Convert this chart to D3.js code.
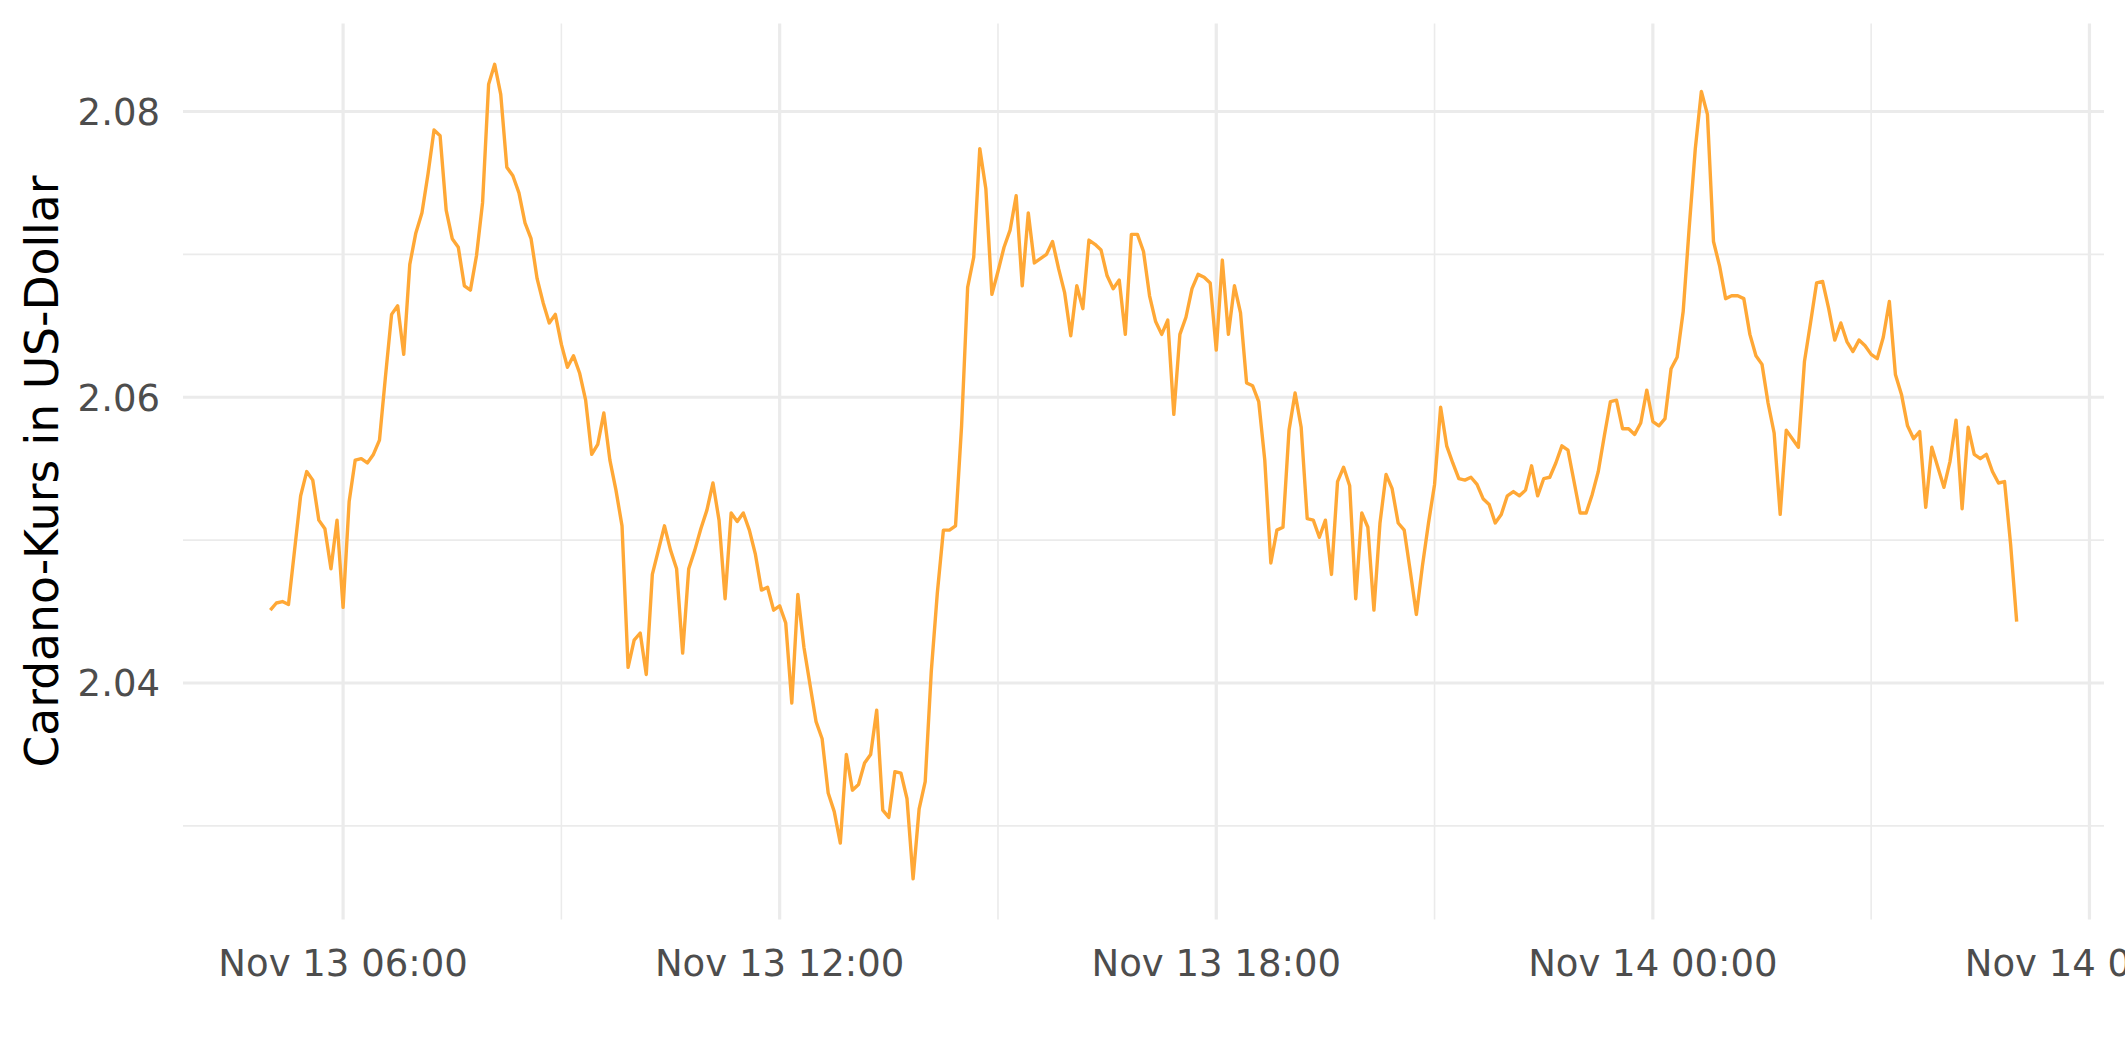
<!DOCTYPE html>
<html><head><meta charset="utf-8">
<script src="https://cdn.jsdelivr.net/npm/d3@7"></script>
<style>body{margin:0;background:#fff;} svg{display:block;}</style>
</head><body><svg id="c" width="2125" height="1062"></svg>
<script>
const startTime = "2021-11-13T05:00:00Z";
const stepMinutes = 5;
const prices = [
2.0451,2.0456,2.0457,2.0455,2.0493,2.0531,2.0548,2.0542,2.0514,2.0508,
2.0480,2.0514,2.0453,2.0527,2.0556,2.0557,2.0554,2.0560,2.0570,2.0615,
2.0658,2.0664,2.0630,2.0693,2.0715,2.0729,2.0756,2.0787,2.0783,2.0731,
2.0711,2.0705,2.0678,2.0675,2.0699,2.0736,2.0819,2.0833,2.0812,2.0761,
2.0755,2.0743,2.0722,2.0711,2.0683,2.0666,2.0652,2.0658,2.0637,2.0621,
2.0629,2.0617,2.0598,2.0560,2.0567,2.0589,2.0556,2.0535,2.0510,2.0411,
2.0430,2.0435,2.0406,2.0476,2.0493,2.0510,2.0493,2.0480,2.0421,2.0480,
2.0493,2.0508,2.0521,2.0540,2.0514,2.0459,2.0519,2.0513,2.0519,2.0507,
2.0490,2.0465,2.0467,2.0451,2.0454,2.0442,2.0386,2.0462,2.0425,2.0399,
2.0373,2.0361,2.0323,2.0310,2.0288,2.0350,2.0325,2.0329,2.0344,2.0350,
2.0381,2.0311,2.0306,2.0338,2.0337,2.0319,2.0263,2.0312,2.0331,2.0408,
2.0463,2.0507,2.0507,2.0510,2.0580,2.0677,2.0698,2.0774,2.0746,2.0672,
2.0688,2.0705,2.0717,2.0741,2.0678,2.0729,2.0694,2.0697,2.0700,2.0709,
2.0690,2.0673,2.0643,2.0678,2.0662,2.0710,2.0707,2.0703,2.0685,2.0676,
2.0682,2.0644,2.0714,2.0714,2.0702,2.0671,2.0653,2.0644,2.0654,2.0588,
2.0644,2.0656,2.0676,2.0686,2.0684,2.0680,2.0633,2.0696,2.0644,2.0678,
2.0659,2.0610,2.0608,2.0597,2.0556,2.0484,2.0507,2.0509,2.0577,2.0603,
2.0579,2.0515,2.0514,2.0502,2.0514,2.0476,2.0541,2.0551,2.0538,2.0459,
2.0519,2.0509,2.0451,2.0512,2.0546,2.0536,2.0512,2.0507,2.0478,2.0448,
2.0482,2.0512,2.0539,2.0593,2.0566,2.0554,2.0543,2.0542,2.0544,2.0539,
2.0529,2.0525,2.0512,2.0518,2.0531,2.0534,2.0531,2.0535,2.0552,2.0531,
2.0543,2.0544,2.0554,2.0566,2.0563,2.0541,2.0519,2.0519,2.0532,2.0548,
2.0573,2.0597,2.0598,2.0578,2.0578,2.0574,2.0582,2.0605,2.0583,2.0580,
2.0585,2.0620,2.0628,2.0660,2.0719,2.0774,2.0814,2.0798,2.0709,2.0692,
2.0669,2.0671,2.0671,2.0669,2.0644,2.0629,2.0623,2.0596,2.0575,2.0518,
2.0577,2.0571,2.0565,2.0625,2.0652,2.0680,2.0681,2.0662,2.0640,2.0652,
2.0639,2.0632,2.0640,2.0636,2.0630,2.0627,2.0642,2.0667,2.0616,2.0602,
2.0580,2.0571,2.0576,2.0523,2.0565,2.0551,2.0537,2.0555,2.0584,2.0522,
2.0579,2.0560,2.0557,2.0560,2.0548,2.0540,2.0541,2.0497,2.0443
];
const yMajorTicks = [2.04, 2.06, 2.08];
const yMinorTicks = [2.03, 2.05, 2.07];
const xMajorTicks = ["2021-11-13T06:00:00Z","2021-11-13T12:00:00Z","2021-11-13T18:00:00Z","2021-11-14T00:00:00Z","2021-11-14T06:00:00Z"];
const xMinorTicks = ["2021-11-13T09:00:00Z","2021-11-13T15:00:00Z","2021-11-13T21:00:00Z","2021-11-14T03:00:00Z"];
const yTitle = "Cardano-Kurs in US-Dollar";

const t0 = new Date(startTime).getTime();
const data = prices.map((v, i) => ({t: new Date(t0 + i * stepMinutes * 60000), v}));

const P = {left: 183, right: 2104, top: 23.6, bottom: 919.5};
const svg = d3.select("#c");

const tExt = d3.extent(data, d => d.t.getTime());
const tPad = (tExt[1] - tExt[0]) * 0.05;
const x = d3.scaleUtc().domain([new Date(tExt[0] - tPad), new Date(tExt[1] + tPad)]).range([P.left, P.right]);
const vExt = d3.extent(data, d => d.v);
const vPad = (vExt[1] - vExt[0]) * 0.05;
const y = d3.scaleLinear().domain([vExt[0] - vPad, vExt[1] + vPad]).range([P.bottom, P.top]);

const grid = svg.append("g");
const GC = "#EBEBEB";
grid.selectAll(".ymin").data(yMinorTicks).join("line")
  .attr("x1", P.left).attr("x2", P.right).attr("y1", d => y(d)).attr("y2", d => y(d))
  .attr("stroke", GC).attr("stroke-width", 1.6);
grid.selectAll(".xmin").data(xMinorTicks.map(s => new Date(s))).join("line")
  .attr("y1", P.top).attr("y2", P.bottom).attr("x1", d => x(d)).attr("x2", d => x(d))
  .attr("stroke", GC).attr("stroke-width", 1.6);
grid.selectAll(".ymaj").data(yMajorTicks).join("line")
  .attr("x1", P.left).attr("x2", P.right).attr("y1", d => y(d)).attr("y2", d => y(d))
  .attr("stroke", GC).attr("stroke-width", 3.2);
grid.selectAll(".xmaj").data(xMajorTicks.map(s => new Date(s))).join("line")
  .attr("y1", P.top).attr("y2", P.bottom).attr("x1", d => x(d)).attr("x2", d => x(d))
  .attr("stroke", GC).attr("stroke-width", 3.2);

const line = d3.line().x(d => x(d.t)).y(d => y(d.v));
svg.append("path").datum(data).attr("d", line)
  .attr("fill", "none").attr("stroke", "#FFA836").attr("stroke-width", 3.4)
  .attr("stroke-linejoin", "round").attr("stroke-linecap", "butt");

const FONT = "DejaVu Sans, Verdana, sans-serif";
const fmt = d3.utcFormat("%b %d %H:%M");
svg.append("g").selectAll("text").data(yMajorTicks).join("text")
  .attr("x", 160).attr("y", d => y(d)).attr("dy", "0.36em")
  .attr("text-anchor", "end").attr("font-family", FONT).attr("font-size", 37)
  .attr("fill", "#4D4D4D").text(d => d3.format(".2f")(d));
svg.append("g").selectAll("text").data(xMajorTicks.map(s => new Date(s))).join("text")
  .attr("x", d => x(d)).attr("y", 976)
  .attr("text-anchor", "middle").attr("font-family", FONT).attr("font-size", 37)
  .attr("fill", "#4D4D4D").text(d => fmt(d));
svg.append("text")
  .attr("transform", `translate(58,${(P.top + P.bottom) / 2}) rotate(-90)`)
  .attr("text-anchor", "middle").attr("font-family", FONT).attr("font-size", 45.6)
  .attr("fill", "#000").text(yTitle);
</script></body></html>
